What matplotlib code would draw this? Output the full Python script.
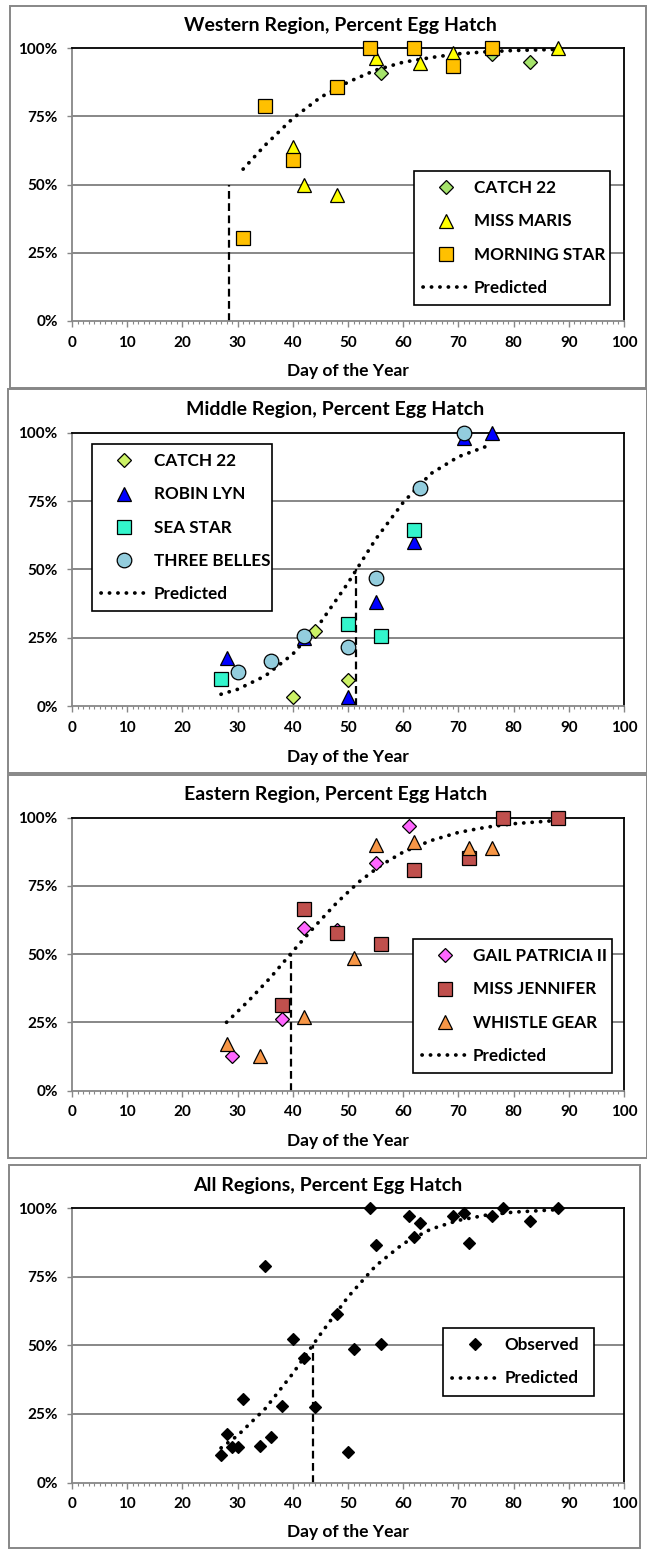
import matplotlib
matplotlib.use("Agg")
import matplotlib.pyplot as plt
from matplotlib.patches import Rectangle
from matplotlib.ticker import MultipleLocator, FuncFormatter

plt.rcParams['font.family'] = ['Lato', 'DejaVu Sans']
plt.rcParams['font.weight'] = 'bold'

W, H = 647, 1555

# ---------------- data ----------------
# Western
west_c22_x = [56, 76, 83]
west_c22_y = [90.8, 98.0, 95.1]
west_mm_x = [40, 42, 48, 55, 63, 69, 88]
west_mm_y = [63.9, 49.9, 46.2, 96.3, 94.5, 98.2, 100]
west_ms_x = [31, 35, 40, 48, 54, 62, 69, 76]
west_ms_y = [30.3, 78.9, 59.0, 85.7, 100, 100, 93.5, 100]
west_pred_x = [31, 35, 40, 45, 50, 55, 60, 65, 70, 75, 80, 88]
west_pred_y = [55.7, 64.5, 74.3, 82.0, 87.6, 92.0, 94.9, 96.6, 98.0, 98.7, 99.2, 99.6]
west_mid = 28.5

# Middle
mid_c22_x = [40, 44, 50]
mid_c22_y = [3.4, 27.6, 9.5]
mid_rl_x = [28, 42, 50, 55, 62, 71, 76]
mid_rl_y = [17.4, 24.8, 3.2, 37.9, 60.1, 97.9, 100]
mid_ss_x = [27, 50, 56, 62]
mid_ss_y = [9.8, 30.0, 25.7, 64.4]
mid_tb_x = [30, 36, 42, 50, 55, 63, 71]
mid_tb_y = [12.6, 16.3, 25.7, 21.5, 46.7, 79.6, 100]
mid_pred_x = [27, 30, 35, 40, 45, 50, 55, 60, 65, 70, 76]
mid_pred_y = [4.3, 6.1, 11.0, 19.0, 30.5, 45.0, 61.0, 74.5, 85.0, 91.2, 95.7]
mid_mid = 51.5

# Eastern
east_gp_x = [29, 38, 42, 48, 55, 61, 78, 88]
east_gp_y = [12.5, 26.2, 59.7, 59.0, 83.3, 97.1, 100, 100]
east_mj_x = [38, 42, 48, 56, 62, 72, 78, 88]
east_mj_y = [31.3, 66.5, 57.8, 53.7, 80.8, 85.3, 100, 100]
east_wg_x = [28, 34, 42, 51, 55, 62, 72, 76]
east_wg_y = [16.9, 12.6, 26.8, 48.5, 90.0, 91.2, 89.0, 89.0]
east_pred_x = [28, 32, 36, 40, 44, 48, 52, 56, 60, 65, 70, 75, 80, 88]
east_pred_y = [25.0, 32.9, 41.5, 51.0, 60.2, 68.9, 76.5, 82.6, 87.4, 91.6, 94.6, 96.5, 97.8, 99.0]
east_mid = 39.6

# All regions
all_x = [27, 28, 29, 30, 31, 34, 35, 36, 38, 40, 42, 44, 48, 50, 51, 54, 55, 56,
         61, 62, 63, 69, 71, 72, 76, 78, 83, 88]
all_y = [10.0, 17.7, 12.8, 12.8, 30.5, 13.2, 78.9, 16.5, 28.0, 52.2, 45.5, 27.4,
         61.3, 11.0, 48.5, 100, 86.6, 50.6, 97.2, 89.6, 94.5, 97.2, 98.2, 87.2,
         97.2, 100, 95.1, 100]
all_pred_x = [27, 30, 35, 40, 45, 50, 55, 60, 65, 70, 75, 80, 88]
all_pred_y = [12.6, 17.1, 26.9, 39.7, 54.0, 67.6, 78.9, 87.0, 92.3, 95.5, 97.4, 98.5, 99.4]
all_mid = 43.6

x_ticks = [0, 10, 20, 30, 40, 50, 60, 70, 80, 90, 100]
y_ticks = [0, 25, 50, 75, 100]

GRAY = '#878787'

fig = plt.figure(figsize=(W / 100, H / 100), dpi=100)


def px_rect(x0, y0, x1, y1):
    return [x0 / W, 1 - y1 / H, (x1 - x0) / W, (y1 - y0) / H]


# panel borders
for (x0, y0, x1, y1) in [(10, 6, 646, 388), (8, 389.5, 646.5, 773), (8, 775, 646.5, 1158), (9, 1165, 640, 1548)]:
    fig.patches.append(Rectangle((x0 / W, 1 - y1 / H), (x1 - x0) / W, (y1 - y0) / H,
                                 transform=fig.transFigure, fill=False,
                                 edgecolor=GRAY, lw=1.4))


def setup_axes(top, bottom, title, title_x, title_y, xlabel_y):
    ax = fig.add_axes(px_rect(72, top, 624, bottom))
    ax.set_xlim(0, 100)
    ax.set_ylim(0, 100)
    ax.set_xticks(x_ticks)
    ax.set_yticks(y_ticks)
    ax.xaxis.set_minor_locator(MultipleLocator(1))
    ax.yaxis.set_major_formatter(FuncFormatter(lambda v, p: f"{int(v)}%"))
    for s in ['top', 'right']:
        ax.spines[s].set_color('black')
        ax.spines[s].set_linewidth(1.3)
    for s in ['left', 'bottom']:
        ax.spines[s].set_color(GRAY)
        ax.spines[s].set_linewidth(1.3)
    for yv in [25, 50, 75]:
        ax.axhline(yv, color=GRAY, lw=1.4, zorder=0.5)
    ax.tick_params(axis='x', which='major', direction='out', length=4, width=1, color=GRAY,
                   pad=6.5, labelsize=11)
    ax.tick_params(axis='x', which='minor', direction='out', length=2.5, width=0.8, color=GRAY)
    ax.tick_params(axis='y', which='major', direction='out', length=3.3, width=1, color=GRAY,
                   pad=7, labelsize=11)
    ax.tick_params(axis='y', which='minor', left=False)
    for lab in ax.get_xticklabels() + ax.get_yticklabels():
        lab.set_fontweight('bold')
    fig.text(title_x / W, 1 - title_y / H, title, ha='center', va='center',
             fontsize=14, fontweight='bold')
    fig.text(348 / W, 1 - xlabel_y / H, 'Day of the Year', ha='center', va='center',
             fontsize=12.5, fontweight='bold')
    return ax


def pred(ax, xs, ys, mid):
    ax.plot([mid, mid], [0, 50], color='black', lw=1.6, linestyle=(0, (3.5, 2)), zorder=2)
    ln, = ax.plot(xs, ys, color='black', lw=2.7, linestyle=(0, (0.05, 2.2)),
                  dash_capstyle='round', zorder=2, label='Predicted')
    return ln


def legend(ax, x0, x1, top, axtop, axbot, hl):
    h = axbot - axtop
    x0f = (x0 - 72) / 552
    wf = (x1 - x0) / 552
    topf = (axbot - top) / h
    leg = ax.legend(loc='upper left', bbox_to_anchor=(x0f, topf - 0.5, wf, 0.5), mode='expand',
                    frameon=True, fancybox=False, edgecolor='black', framealpha=1,
                    prop={'weight': 'bold', 'size': 12.3}, handlelength=hl, handletextpad=0.35,
                    labelspacing=1.0, borderpad=0.55, borderaxespad=0)
    leg.get_frame().set_linewidth(1.2)
    leg.set_zorder(5)
    return leg


mk = dict(linestyle='none', markeredgecolor='black', markeredgewidth=0.9, zorder=3, clip_on=False)

# ---- Panel 1: Western ----
ax1 = setup_axes(48.3, 321, 'Western Region, Percent Egg Hatch', 340, 25, 371)
ax1.plot(west_c22_x, west_c22_y, marker='D', markersize=7.2, markerfacecolor='#a5e36b', label='CATCH 22', **mk)
ax1.plot(west_mm_x, west_mm_y, marker='^', markersize=9.5, markerfacecolor='#ffff00', label='MISS MARIS', **mk)
ax1.plot(west_ms_x, west_ms_y, marker='s', markersize=10, markerfacecolor='#ffc000', label='MORNING STAR', **mk)
pred(ax1, west_pred_x, west_pred_y, west_mid)
legend(ax1, 414, 610, 171, 48.3, 321, 2.6)

# ---- Panel 2: Middle ----
ax2 = setup_axes(432.7, 706, 'Middle Region, Percent Egg Hatch', 335, 409, 757)
ax2.plot(mid_c22_x, mid_c22_y, marker='D', markersize=7.2, markerfacecolor='#ccf266', label='CATCH 22', **mk)
ax2.plot(mid_rl_x, mid_rl_y, marker='^', markersize=9.5, markerfacecolor='#0000ff', label='ROBIN LYN', **mk)
ax2.plot(mid_ss_x, mid_ss_y, marker='s', markersize=10, markerfacecolor='#33f5cc', label='SEA STAR', **mk)
ax2.plot(mid_tb_x, mid_tb_y, marker='o', markersize=10.5, markerfacecolor='#93cddd', label='THREE BELLES', **mk)
pred(ax2, mid_pred_x, mid_pred_y, mid_mid)
legend(ax2, 92, 272, 444, 432.7, 706, 2.7)

# ---- Panel 3: Eastern ----
ax3 = setup_axes(817.7, 1090.5, 'Eastern Region, Percent Egg Hatch', 336, 794, 1141)
ax3.plot(east_gp_x, east_gp_y, marker='D', markersize=7.2, markerfacecolor='#ff66ff', label='GAIL PATRICIA II', **mk)
ax3.plot(east_mj_x, east_mj_y, marker='s', markersize=10, markerfacecolor='#c0504d', label='MISS JENNIFER', **mk)
ax3.plot(east_wg_x, east_wg_y, marker='^', markersize=9.5, markerfacecolor='#f79646', label='WHISTLE GEAR', **mk)
pred(ax3, east_pred_x, east_pred_y, east_mid)
legend(ax3, 413, 612, 939, 817.7, 1090.5, 2.6)

# ---- Panel 4: All ----
ax4 = setup_axes(1208, 1482.5, 'All Regions, Percent Egg Hatch', 328, 1186, 1532)
ax4.plot(all_x, all_y, marker='D', markersize=6.6, markerfacecolor='black', label='Observed', **mk)
pred(ax4, all_pred_x, all_pred_y, all_mid)
legend(ax4, 443, 594, 1328, 1208, 1482.5, 2.7)

fig.savefig('out.png', dpi=100)
